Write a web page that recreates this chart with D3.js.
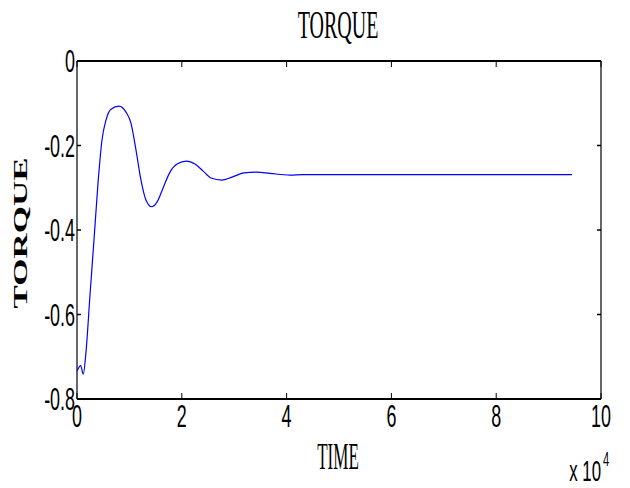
<!DOCTYPE html>
<html>
<head>
<meta charset="utf-8">
<script src="https://cdn.jsdelivr.net/npm/d3@7"></script>
<style>
  html, body { margin: 0; padding: 0; background: #fff; }
</style>
</head>
<body>
<div id="container"></div>
<script>
// time samples (raw units, shown with x10^4 multiplier) and torque values
const time = [0, 700, 1200, 1720, 2480, 3240, 4010, 4770, 5530, 6490, 8010, 9350,
  10300, 11260, 12210, 13160, 14250, 15260, 16410, 17740, 19080, 20930, 22510, 24040,
  25570, 27610, 29570, 31860, 34290, 36820, 40640, 43120, 60000, 80000, 94450];
const torque = [-0.734, -0.721, -0.741, -0.688, -0.554, -0.424, -0.289, -0.187, -0.140,
  -0.114, -0.107, -0.121, -0.147, -0.211, -0.282, -0.329, -0.345, -0.334, -0.301, -0.263,
  -0.244, -0.237, -0.244, -0.260, -0.277, -0.282, -0.275, -0.265, -0.263, -0.266, -0.270,
  -0.269, -0.269, -0.269, -0.269];
const xTicks = [0, 20000, 40000, 60000, 80000, 100000];
const xTickLabels = ["0", "2", "4", "6", "8", "10"];
const yTicks = [0, -0.2, -0.4, -0.6, -0.8];
const yTickLabels = ["0", "-0.2", "-0.4", "-0.6", "-0.8"];

const W = 630, H = 488;
const plotL = 77, plotR = 601, plotT = 61, plotB = 399;

const svg = d3.select('#container').append('svg')
  .attr('width', W)
  .attr('height', H);

const x = d3.scaleLinear().domain([0, 100000]).range([plotL, plotR]);
const y = d3.scaleLinear().domain([-0.8, 0]).range([plotB, plotT]);

// ticks (inward, on all four sides)
const tickG = svg.append('g').attr('stroke', '#000');
tickG.selectAll('line.xb').data(xTicks).join('line')
  .attr('x1', d => x(d)).attr('x2', d => x(d))
  .attr('y1', plotB).attr('y2', plotB - 6).attr('stroke-width', 1);
tickG.selectAll('line.xt').data(xTicks).join('line')
  .attr('x1', d => x(d)).attr('x2', d => x(d))
  .attr('y1', plotT).attr('y2', plotT + 6).attr('stroke-width', 1);
tickG.selectAll('line.yl').data(yTicks).join('line')
  .attr('x1', plotL).attr('x2', plotL + 4)
  .attr('y1', d => y(d)).attr('y2', d => y(d)).attr('stroke-width', 1.5);
tickG.selectAll('line.yr').data(yTicks).join('line')
  .attr('x1', plotR).attr('x2', plotR - 4)
  .attr('y1', d => y(d)).attr('y2', d => y(d)).attr('stroke-width', 1.5);

// box
svg.append('line').attr('x1', plotL).attr('x2', plotR).attr('y1', plotT).attr('y2', plotT)
  .attr('stroke', '#000').attr('stroke-width', 2.2);
svg.append('line').attr('x1', plotL).attr('x2', plotR).attr('y1', plotB).attr('y2', plotB)
  .attr('stroke', '#000').attr('stroke-width', 2.2);
svg.append('line').attr('x1', plotL).attr('x2', plotL).attr('y1', plotT).attr('y2', plotB)
  .attr('stroke', '#000').attr('stroke-width', 1.2);
svg.append('line').attr('x1', plotR).attr('x2', plotR).attr('y1', plotT).attr('y2', plotB)
  .attr('stroke', '#000').attr('stroke-width', 1.2);

// curve
const line = d3.line().x((d, i) => x(time[i])).y(d => y(d)).curve(d3.curveMonotoneX);
svg.append('path').datum(torque)
  .attr('fill', 'none').attr('stroke', '#0000ff').attr('stroke-width', 1.2)
  .attr('d', line);

// horizontally squeezed text helper
function label(px, py, str, opts) {
  const g = svg.append('g').attr('transform', `translate(${px},${py}) scale(${opts.sq},1)` + (opts.rotate ? ` rotate(${opts.rotate})` : ''));
  return g.append('text')
    .attr('font-family', opts.family)
    .attr('font-size', opts.size)
    .attr('font-weight', opts.weight || 'normal')
    .attr('text-anchor', opts.anchor || 'middle')
    .attr('fill', '#000')
    .text(str);
}

const sans = 'Liberation Sans, Arial, sans-serif';
const serif = 'Liberation Serif, Times New Roman, serif';

xTicks.forEach((d, i) => label(x(d), 427, xTickLabels[i], { family: sans, size: 32, sq: 0.56 }));
yTicks.forEach((d, i) => label(plotL - 2, y(d) + 11, yTickLabels[i], { family: sans, size: 32, sq: 0.56, anchor: 'end' }));

label(338, 38, 'TORQUE', { family: serif, size: 40, sq: 0.5 });
label(338, 469, 'TIME', { family: serif, size: 37, sq: 0.46 });
label(27, 233, 'TORQUE', { family: serif, size: 35, sq: 0.56, weight: 'bold', rotate: -90 });

// multiplier
label(601, 481, 'x 10', { family: sans, size: 30, sq: 0.56, anchor: 'end' });
label(606, 466, '4', { family: sans, size: 20, sq: 0.56 });
</script>
</body>
</html>
